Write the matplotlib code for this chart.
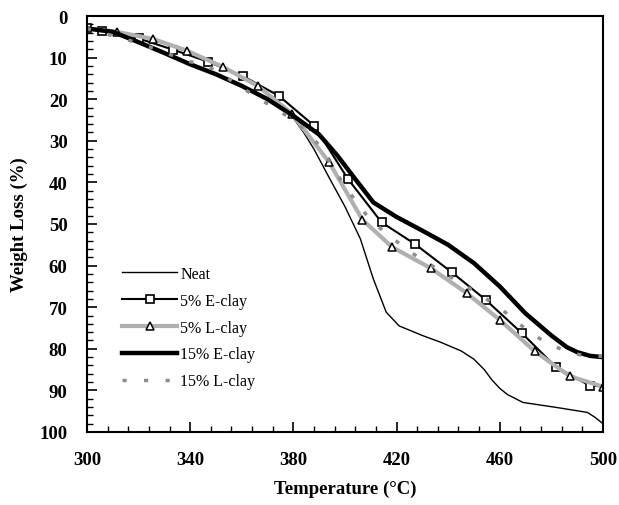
import matplotlib
matplotlib.use('Agg')
import matplotlib.pyplot as plt
import numpy as np

# TGA curves
temp_neat = [300, 310, 320, 330, 340, 350, 360, 370, 375, 380, 384, 388, 394, 400, 406,
             411, 416, 421, 430, 437, 445, 450, 454, 457, 460, 463, 469, 482, 494, 497, 500]
loss_neat = [3.0, 4.0, 6.5, 9.0, 11.5, 14.0, 16.6, 19.8, 21.6, 24.5, 28.0, 32.0, 39.0, 45.8, 53.6,
             63.2, 71.2, 74.5, 76.8, 78.4, 80.5, 82.5, 85.0, 87.5, 89.5, 91.0, 92.9, 94.1, 95.3, 96.5, 98.0]

temp_5e = [300, 306, 320, 333.4, 347, 360.6, 374.4, 388.1, 401.2, 414.2, 427.1, 441.4,
           454.5, 468.5, 481.7, 495, 500]
loss_5e = [3.0, 3.6, 5.4, 8.1, 11.0, 14.5, 19.2, 26.4, 39.2, 49.6, 54.8, 61.6,
           68.2, 76.2, 84.3, 88.9, 89.0]

temp_5l = [300, 311.5, 325.5, 338.6, 352.6, 366.2, 379.5, 393.9, 406.8, 418.4, 433.2,
           447.2, 460.1, 473.6, 487.2, 500]
loss_5l = [3.0, 3.8, 5.5, 8.3, 12.2, 16.8, 23.5, 35.2, 49.0, 55.6, 60.6,
           66.6, 73.1, 80.6, 86.6, 89.1]

temp_15e = [300, 310, 320, 330, 340, 350, 360, 370, 380, 390, 397, 404, 411, 420, 430,
            440, 450, 460, 470, 480, 486, 490, 495, 500]
loss_15e = [3.0, 3.8, 6.3, 8.9, 11.6, 14.0, 16.8, 20.0, 24.0, 28.5, 33.5, 39.2, 44.8, 48.3, 51.6,
            55.0, 59.4, 65.0, 71.5, 76.8, 79.6, 80.8, 81.7, 82.0]

temp_15l = [300, 320, 340, 345, 352, 359, 365, 372, 380, 390, 400, 410, 424.5, 435, 446.5,
            459.4, 466, 472.4, 479.5, 487.2, 493.7, 500]
loss_15l = [3.0, 6.5, 11.0, 11.5, 13.9, 16.8, 19.2, 21.9, 25.0, 31.0, 41.0, 49.2, 56.4, 60.5, 64.8,
            69.8, 73.2, 76.4, 79.0, 80.9, 81.8, 81.8]

plt.rcParams['font.family'] = ['Liberation Serif', 'DejaVu Serif']

fig = plt.figure(figsize=(6.19, 5.06), dpi=100)
ax = fig.add_axes([0.1405, 0.1443, 0.8335, 0.8221])

ax.plot(temp_neat, loss_neat, color='black', lw=1.0, label='Neat')
ax.plot(temp_5e, loss_5e, color='black', lw=1.5, marker='s', ms=5.5, mfc='white',
        mec='black', mew=1.2, markevery=list(range(0, len(temp_5e) - 1)), label='5% E-clay')
ax.plot(temp_5l, loss_5l, color='#b0b0b0', lw=3.0, marker='^', ms=6, mfc='white',
        mec='black', mew=1.1, markevery=list(range(1, len(temp_5l))), label='5% L-clay')
ax.plot(temp_15e, loss_15e, color='black', lw=3.2, label='15% E-clay')
ax.plot(temp_15l, loss_15l, color='#8c8c8c', lw=2.5, ls=(0, (1.2, 5)), label='15% L-clay')

ax.set_xlim(300, 500)
ax.set_ylim(100, 0)
ax.set_xticks(np.arange(300, 501, 40))
ax.set_xticks(np.arange(300, 501, 8), minor=True)
ax.set_yticks(np.arange(0, 101, 10))
ax.set_yticks(np.arange(0, 101, 2), minor=True)
ax.tick_params(which='major', direction='in', length=7, width=1.2, labelsize=13.5)
ax.tick_params(which='minor', direction='in', length=4, width=1.0)
ax.tick_params(axis='x', which='major', pad=14)
ax.tick_params(axis='y', which='major', pad=14)
for lab in ax.get_xticklabels() + ax.get_yticklabels():
    lab.set_fontweight('bold')
for sp in ax.spines.values():
    sp.set_linewidth(1.5)

ax.set_xlabel('Temperature (°C)', fontsize=13.5, fontweight='bold', labelpad=8)
ax.set_ylabel('Weight Loss (%)', fontsize=13.5, fontweight='bold', labelpad=8)

ax.legend(loc='lower left', bbox_to_anchor=(0.04, 0.068), frameon=False, fontsize=11.5,
          numpoints=1, handlelength=3.45, labelspacing=0.68, handletextpad=0.2)

fig.savefig('out.png', dpi=100)
